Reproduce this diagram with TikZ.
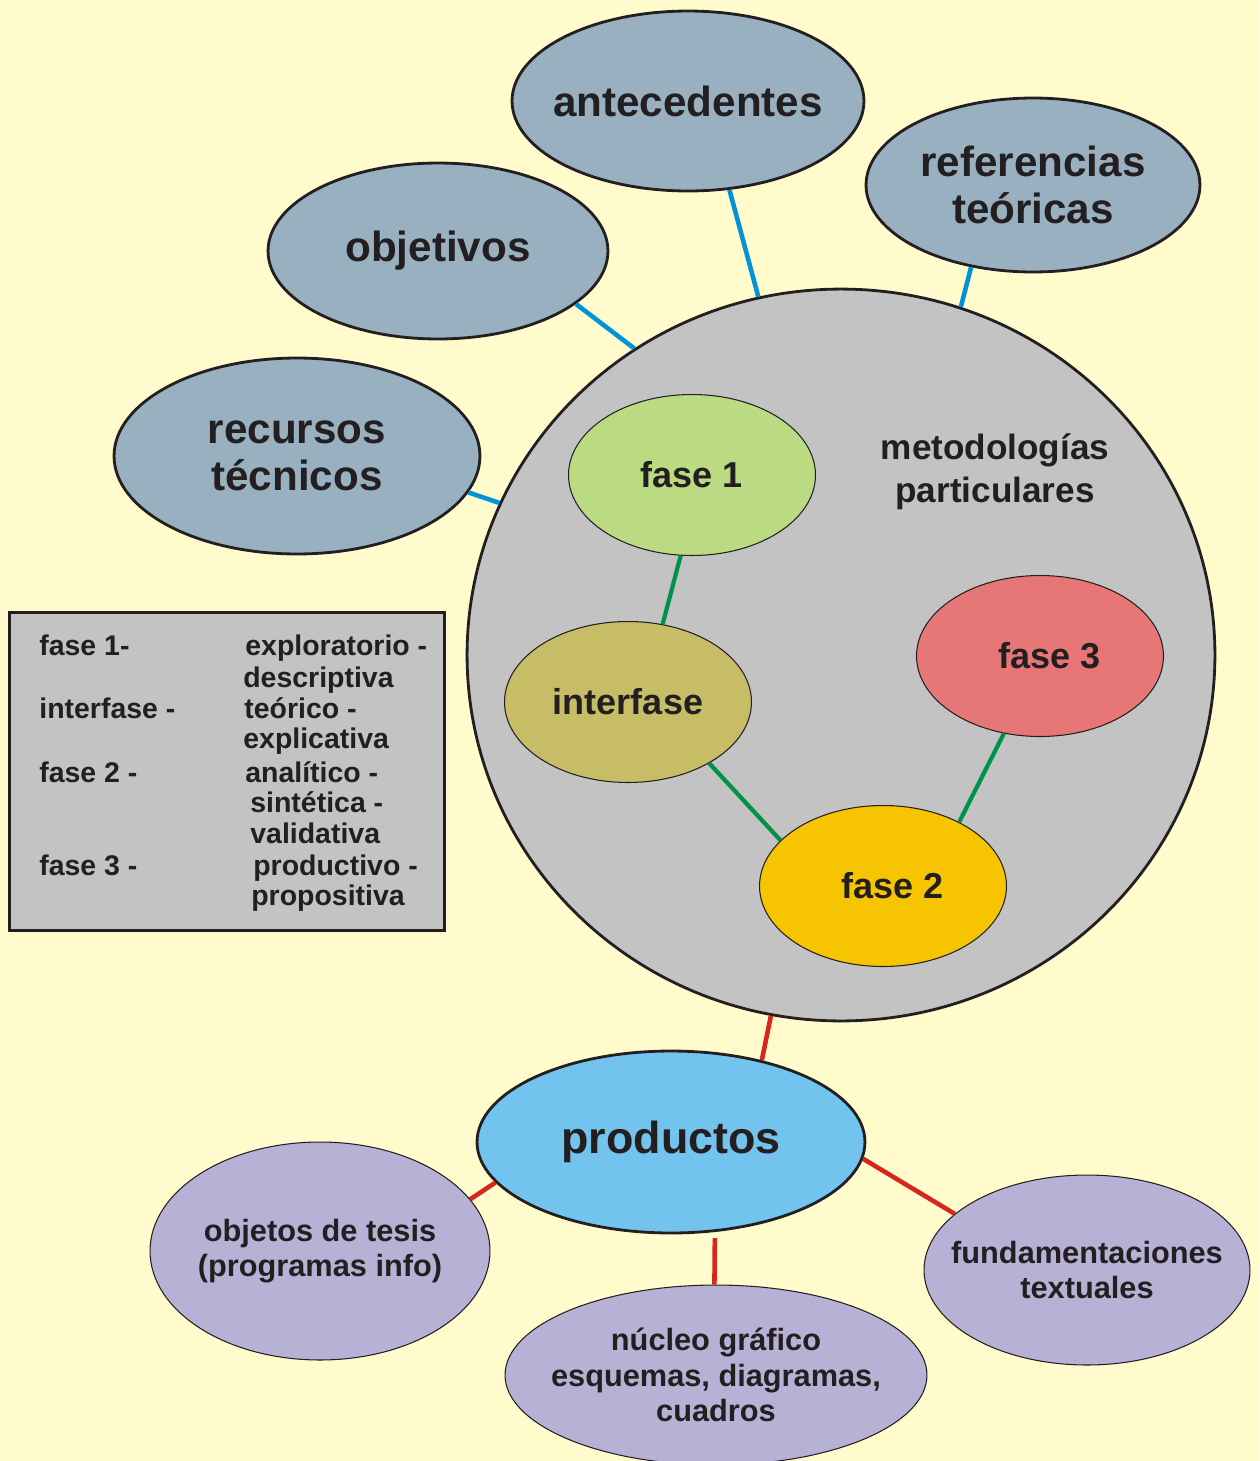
\documentclass[tikz,border=0pt]{standalone}
\usepackage{fontspec}
\setmainfont{Liberation Sans}
\usetikzlibrary{shapes.geometric}

\definecolor{paper}{HTML}{FFFBCC}
\definecolor{ink}{HTML}{231F20}
\definecolor{greybody}{HTML}{C3C3C3}
\definecolor{slate}{HTML}{98B0BF}
\definecolor{phaseone}{HTML}{BADB82}
\definecolor{phaseinter}{HTML}{C6BD66}
\definecolor{phasetwo}{HTML}{F6C400}
\definecolor{phasethree}{HTML}{E77777}
\definecolor{sky}{HTML}{72C3EE}
\definecolor{lilac}{HTML}{B8B1D6}
\definecolor{linkblue}{HTML}{0093D8}
\definecolor{linkgreen}{HTML}{00924A}
\definecolor{linkred}{HTML}{D9261C}

\begin{document}
\begin{tikzpicture}[x=0.02cm,y=-0.02cm]
    % `bubble' is used for the outer topics, `phase' for the ellipses inside the big circle.
    % `legendtext' is used for the lines in the box on the left.
    \tikzstyle{bubble} = [ellipse,draw=ink,line width=1.6pt,inner sep=-0.6cm,text=ink,align=center,font=\fontsize{24}{26.8}\bfseries\selectfont]
    \tikzstyle{phase} = [ellipse,draw=ink,line width=0.6pt,inner sep=-0.6cm,text=ink,minimum width=4.94cm,minimum height=3.22cm,font=\fontsize{20.5}{24}\bfseries\selectfont]
    \tikzstyle{product} = [bubble,fill=lilac,line width=0.6pt,font=\fontsize{17.5}{20.2}\bfseries\selectfont]
    \tikzstyle{legendtext} = [anchor=base west,inner sep=0pt,text=ink,font=\fontsize{16.2}{18}\bfseries\selectfont]
    \tikzstyle{bluelink} = [linkblue,line width=2.6pt]
    \tikzstyle{greenlink} = [linkgreen,line width=2.4pt]
    \tikzstyle{redlink} = [linkred,line width=2.6pt]
    %
    \useasboundingbox (0,0) rectangle (1259,1461);
    \clip (0,0) rectangle (1259,1461);
    \fill[paper] (0,0) rectangle (1259,1461);
    %
    % central circle
    \node[ellipse,draw=ink,fill=greybody,line width=1.6pt,minimum width=14.96cm,minimum height=14.64cm] (metodo) at (841,655) {};
    \node[text=ink,align=center,font=\fontsize{20}{24.5}\bfseries\selectfont] (metodotext) at (995,472) {metodologías\\particulares};
    %
    % topics around it
    \node[bubble,fill=slate,minimum width=7.04cm,minimum height=3.6cm] (ante) at (688,101) {antecedentes};
    \node[bubble,fill=slate,minimum width=6.68cm,minimum height=3.48cm] (refs) at (1033,185) {referencias\\teóricas};
    \node[bubble,fill=slate,minimum width=6.8cm,minimum height=3.52cm] (obj) at (438,251) {objetivos};
    \node[bubble,fill=slate,minimum width=7.32cm,minimum height=3.92cm] (recur) at (297,456) {recursos\\técnicos};
    %
    % phases
    \node[phase,fill=phaseone] (fase1) at (692,475) {fase 1};
    \node[phase,fill=phaseinter] (inter) at (628,702) {interfase};
    \node[phase,fill=phasethree] (fase3) at (1040,656) {\hspace*{0.4cm}fase 3};
    \node[phase,fill=phasetwo] (fase2) at (883,886) {\hspace*{0.4cm}fase 2};
    %
    % products
    \node[bubble,fill=sky,minimum width=7.76cm,minimum height=3.64cm,font=\fontsize{25.5}{28}\bfseries\selectfont] (prod) at (671,1142) {productos};
    \node[product,minimum width=6.8cm,minimum height=4.36cm] (objetos) at (320,1251) {objetos de tesis\\(programas info)};
    \node[product,minimum width=8.44cm,minimum height=3.6cm] (nucleo) at (716,1375) {núcleo gráfico\\esquemas, diagramas,\\cuadros};
    \node[product,minimum width=6.52cm,minimum height=3.8cm] (fundam) at (1087,1270) {fundamentaciones\\textuales};
    %
    % legend box
    \node[draw=ink,fill=greybody,line width=1.6pt,anchor=north west,minimum width=8.7cm,minimum height=6.36cm] (legend) at (8,611) {};
    \node[legendtext] (leg1) at (39,655) {fase 1-};
    \node[legendtext] (leg2) at (39,718) {interfase -};
    \node[legendtext] (leg3) at (39,782) {fase 2 -};
    \node[legendtext] (leg4) at (39,875) {fase 3 -};
    \node[legendtext] (legexp) at (245,655) {exploratorio -};
    \node[legendtext] (legdes) at (243,687) {descriptiva};
    \node[legendtext] (legteo) at (244,718) {teórico -};
    \node[legendtext] (legexl) at (243,748) {explicativa};
    \node[legendtext] (legana) at (245,782) {analítico -};
    \node[legendtext] (legsin) at (250,812) {sintética -};
    \node[legendtext] (legval) at (250,843) {validativa};
    \node[legendtext] (legpro) at (253,875) {productivo -};
    \node[legendtext] (legprp) at (251,905) {propositiva};
    %
    % connectors
    \draw[bluelink] (ante.-65) -- (metodo.103);
    \draw[bluelink] (refs.-127) -- (metodo.71.5);
    \draw[bluelink] (obj.-21) -- (metodo.124.3);
    \draw[bluelink] (recur.-12) -- (metodo.156.8);
    \draw[greenlink] (fase1.-98) -- (inter.66);
    \draw[greenlink] (inter.-37) -- (fase2.156);
    \draw[greenlink] (fase3.-115) -- (fase2.40.5);
    \draw[redlink] (metodo.-101) -- (prod.42);
    \draw[redlink] (prod.-167.6) -- (objetos.19);
    \draw[redlink,shorten <=0.12cm] (prod.-64.2) -- (nucleo.91.3);
    \draw[redlink] (prod.-5.5) -- (fundam.157.4);
\end{tikzpicture}
\end{document}
